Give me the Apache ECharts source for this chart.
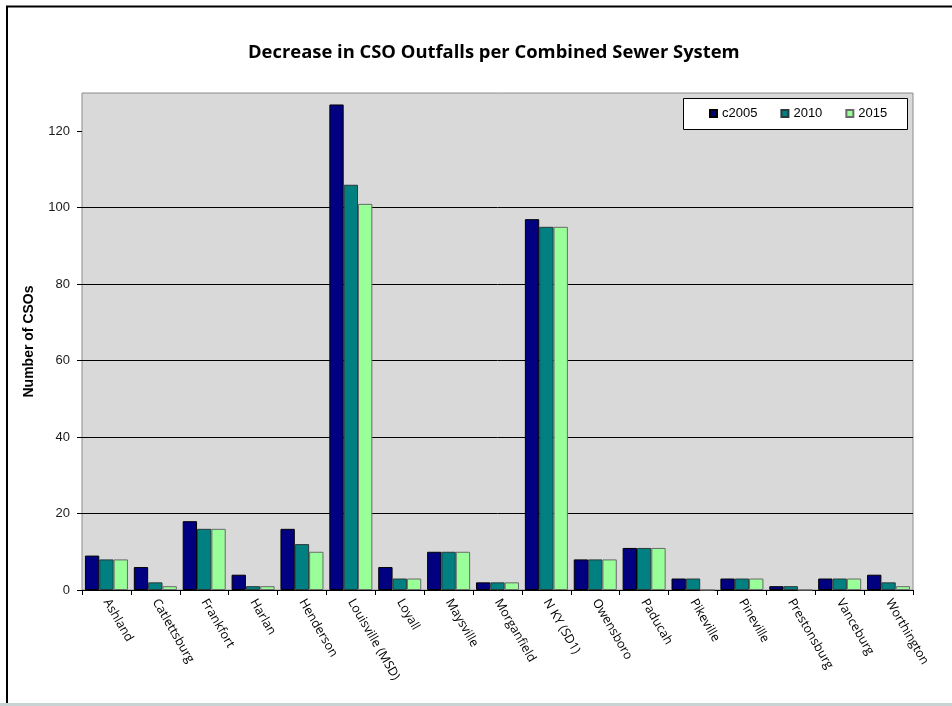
<!DOCTYPE html>
<html>
<head>
<meta charset="utf-8">
<title>Decrease in CSO Outfalls per Combined Sewer System</title>
<script src="https://cdn.jsdelivr.net/npm/echarts@6/dist/echarts.min.js"></script>
<style>
  html, body { margin: 0; padding: 0; background: #ffffff; }
  #chart { width: 952px; height: 706px; }
</style>
</head>
<body>
<div id="chart"></div>
<script>
// Combined sewer systems and their CSO outfall counts
const systems = [
  'Ashland', 'Catlettsburg', 'Frankfort', 'Harlan', 'Henderson',
  'Louisville (MSD)', 'Loyall', 'Maysville', 'Morganfield', 'N KY (SD1)',
  'Owensboro', 'Paducah', 'Pikeville', 'Pineville', 'Prestonsburg',
  'Vanceburg', 'Worthington'
];
const seriesNames = ['c2005', '2010', '2015'];
const outfalls2005 = [9, 6, 18, 4, 16, 127, 6, 10, 2, 97, 8, 11, 3, 3, 1, 3, 4];
const outfalls2010 = [8, 2, 16, 1, 12, 106, 3, 10, 2, 95, 8, 11, 3, 3, 1, 3, 2];
const outfalls2015 = [8, 1, 16, 1, 10, 101, 3, 10, 2, 95, 8, 11, 0, 3, 0, 3, 1];
const yTicks = [0, 20, 40, 60, 80, 100, 120];

const seriesValues = [outfalls2005, outfalls2010, outfalls2015];
const fills = ['#000080', '#008080', '#99FF99'];
const edges = ['#000000', '#2a3a3a', '#6a6a6a'];

const chart = echarts.init(document.getElementById('chart'), null, { renderer: 'canvas' });

const option = {
  animation: false,
  backgroundColor: '#ffffff',
  title: {
    text: 'Decrease in CSO Outfalls per Combined Sewer System',
    left: 243,
    top: 39,
    textStyle: {
      fontFamily: 'Open Sans',
      fontWeight: 'bold',
      fontSize: 18.4,
      color: '#000000'
    }
  },
  legend: {
    data: seriesNames,
    left: 709,
    top: 107,
    itemWidth: 7,
    itemHeight: 7,
    itemGap: 23,
    icon: 'rect',
    padding: 0,
    z: 5,
    textStyle: {
      fontFamily: 'Liberation Sans',
      fontSize: 13,
      color: '#000000',
      padding: [0, 0, 0, 0]
    }
  },
  graphic: [
    // outer frame (left and top edges)
    {
      type: 'polyline', z: 10, silent: true,
      shape: { points: [[7, 703], [7, 6.5], [952, 6.5]] },
      style: { stroke: '#000000', lineWidth: 2, fill: null }
    },
    // strip along the bottom edge
    {
      type: 'rect', z: 10, silent: true,
      shape: { x: 0, y: 703, width: 952, height: 3 },
      style: { fill: '#c9d3d3' }
    },
    // legend box
    {
      type: 'rect', z: 3, silent: true,
      shape: { x: 683.5, y: 98.5, width: 224, height: 31 },
      style: { fill: '#ffffff', stroke: '#000000', lineWidth: 1 }
    }
  ],
  grid: {
    left: 82,
    top: 93,
    width: 831,
    height: 497,
    show: true,
    backgroundColor: '#d9d9d9',
    borderColor: '#8c8c8c',
    borderWidth: 1,
    containLabel: false
  },
  xAxis: {
    type: 'category',
    data: systems,
    boundaryGap: true,
    axisLine: { show: true, lineStyle: { color: '#000000', width: 1 } },
    axisTick: { show: true, length: 5, lineStyle: { color: '#000000' } },
    axisLabel: {
      interval: 0,
      rotate: -60,
      margin: 10,
      fontFamily: 'Open Sans',
      fontSize: 12.5,
      color: '#000000'
    },
    splitLine: { show: false }
  },
  yAxis: {
    type: 'value',
    min: 0,
    max: 130,
    interval: 20,
    name: 'Number of CSOs',
    nameLocation: 'middle',
    nameGap: 46,
    nameTextStyle: {
      fontFamily: 'Liberation Sans',
      fontWeight: 'bold',
      fontSize: 14,
      color: '#000000'
    },
    axisLine: { show: false },
    axisTick: {
      show: true,
      length: 5,
      customValues: yTicks,
      lineStyle: { color: '#000000' }
    },
    axisLabel: {
      customValues: yTicks,
      margin: 12,
      fontFamily: 'Liberation Sans',
      fontSize: 13,
      color: '#1a1a1a'
    },
    splitLine: {
      show: true,
      showMaxLine: false,
      showMinLine: false,
      lineStyle: { color: '#000000', width: 1 }
    }
  },
  series: seriesNames.map((name, i) => ({
    name: name,
    type: 'bar',
    data: seriesValues[i],
    barGap: '0%',
    barCategoryGap: '12%',
    itemStyle: {
      color: fills[i],
      borderColor: edges[i],
      borderWidth: 1
    }
  }))
};

chart.setOption(option);
</script>
</body>
</html>
